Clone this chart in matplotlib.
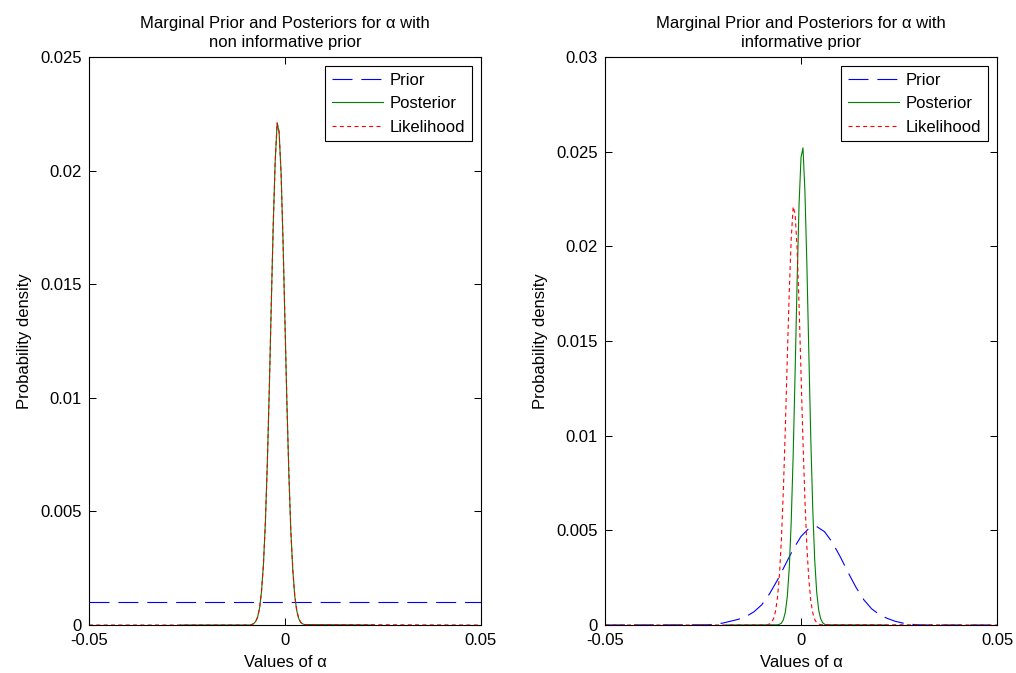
import matplotlib
matplotlib.use("Agg")
import matplotlib.pyplot as plt

plt.rcParams['font.family'] = ['Liberation Sans', 'DejaVu Sans']
plt.rcParams['font.size'] = 12

# likelihood (and non informative posterior)
lik_x = [-0.05, -0.009, -0.0085, -0.008, -0.0075, -0.007, -0.0065, -0.006, -0.0055, -0.005,
         -0.0045, -0.004, -0.0035, -0.003, -0.0025, -0.002, -0.0015, -0.001, -0.0005, 0.0,
         0.0005, 0.001, 0.0015, 0.002, 0.0025, 0.003, 0.0035, 0.004, 0.0045, 0.005, 0.05]
lik_y = [0.0, 0.0, 0.00002, 0.00006, 0.00015, 0.00034, 0.00073, 0.00145, 0.00266, 0.00453,
         0.00715, 0.0104, 0.0141, 0.0176, 0.0204, 0.0221, 0.0217, 0.0199, 0.0169, 0.0133,
         0.0097, 0.0066, 0.0041, 0.0024, 0.00127, 0.00063, 0.00029, 0.00012, 0.00005, 0.00002, 0.0]

# left panel: flat prior, posterior same as likelihood
flat_prior_x = [-0.05, 0.05]
flat_prior_y = [0.001, 0.001]
post1_x = [-0.0267] + lik_x[1:-1] + [0.0225]
post1_y = [0.0] + lik_y[1:-1] + [0.0]

# right panel: informative prior
prior_x = [-0.05, -0.024, -0.022, -0.02, -0.018, -0.016, -0.014, -0.012, -0.01, -0.008,
           -0.006, -0.004, -0.002, 0.0, 0.002, 0.004, 0.006, 0.008, 0.01, 0.012,
           0.014, 0.016, 0.018, 0.02, 0.022, 0.024, 0.026, 0.028, 0.03, 0.032, 0.05]
prior_y = [0.0, 0.00001, 0.00004, 0.0001, 0.0002, 0.0003, 0.00045, 0.0007, 0.00107, 0.00166,
           0.00238, 0.00319, 0.004, 0.00468, 0.0051, 0.0052, 0.00493, 0.00436, 0.00361, 0.00278,
           0.002, 0.00134, 0.00086, 0.00055, 0.00035, 0.0002, 0.0001, 0.00004, 0.00001, 0.0, 0.0]

post2_x = [-0.019, -0.006, -0.0055, -0.005, -0.0045, -0.004, -0.0035, -0.003, -0.0025, -0.002,
           -0.0015, -0.001, -0.0005, 0.0, 0.0005, 0.001, 0.0015, 0.002, 0.0025, 0.003,
           0.0035, 0.004, 0.0045, 0.005, 0.0055, 0.006, 0.0065, 0.0215]
post2_y = [0.0, 0.00001, 0.00004, 0.0001, 0.00028, 0.00068, 0.0015, 0.003, 0.00545, 0.00897,
           0.0134, 0.0181, 0.0222, 0.0247, 0.0252, 0.0229, 0.019, 0.0143, 0.0098, 0.0061,
           0.0034, 0.00174, 0.0008, 0.00034, 0.00013, 0.00004, 0.00001, 0.0]

x_ticks = [-0.05, 0, 0.05]
x_labels = ['-0.05', '0', '0.05']
y_ticks1 = [0, 0.005, 0.01, 0.015, 0.02, 0.025]
y_labels1 = ['0', '0.005', '0.01', '0.015', '0.02', '0.025']
y_ticks2 = [0, 0.005, 0.01, 0.015, 0.02, 0.025, 0.03]
y_labels2 = ['0', '0.005', '0.01', '0.015', '0.02', '0.025', '0.03']

blue_dash = (0, (18, 8))
red_dot = (0, (3.6, 3))

fig = plt.figure(figsize=(10.16, 6.73), dpi=100)
ax1 = fig.add_axes([0.0876, 0.0713, 0.3858, 0.844])
ax2 = fig.add_axes([0.5955, 0.0713, 0.3858, 0.844])

panels = [
    (ax1, flat_prior_x, flat_prior_y, post1_x, post1_y, y_ticks1, y_labels1, 0.025,
     'Marginal Prior and Posteriors for α with\nnon informative prior'),
    (ax2, prior_x, prior_y, post2_x, post2_y, y_ticks2, y_labels2, 0.03,
     'Marginal Prior and Posteriors for α with\ninformative prior'),
]

for ax, px, py, qx, qy, yt, yl, ymax, title in panels:
    ax.plot(px, py, color='#0000ff', lw=0.8, linestyle=blue_dash, label='Prior')
    ax.plot(qx, qy, color='#008000', lw=0.8, label='Posterior')
    ax.plot(lik_x, lik_y, color='#ff0000', lw=0.8, linestyle=red_dot, label='Likelihood')
    ax.set_xlim(-0.05, 0.05)
    ax.set_ylim(0, ymax)
    ax.set_xticks(x_ticks)
    ax.set_xticklabels(x_labels)
    ax.set_yticks(yt)
    ax.set_yticklabels(yl)
    ax.tick_params(direction='in', length=5, width=0.75, top=True, right=True)
    ax.tick_params(axis='x', pad=6)
    ax.tick_params(axis='y', pad=5)
    for s in ax.spines.values():
        s.set_linewidth(0.8)
    ax.set_xlabel('Values of α', labelpad=5)
    ax.set_ylabel('Probability density', labelpad=6)
    ax.set_title(title, fontsize=12, pad=7, linespacing=1.35)
    leg = ax.legend(loc='upper right', fancybox=False, edgecolor='black', framealpha=1,
                    handlelength=3.05, handletextpad=0.42, labelspacing=0.5,
                    borderpad=0.4, borderaxespad=0.55)
    leg.get_frame().set_linewidth(0.8)

fig.savefig('out.png', dpi=100)
